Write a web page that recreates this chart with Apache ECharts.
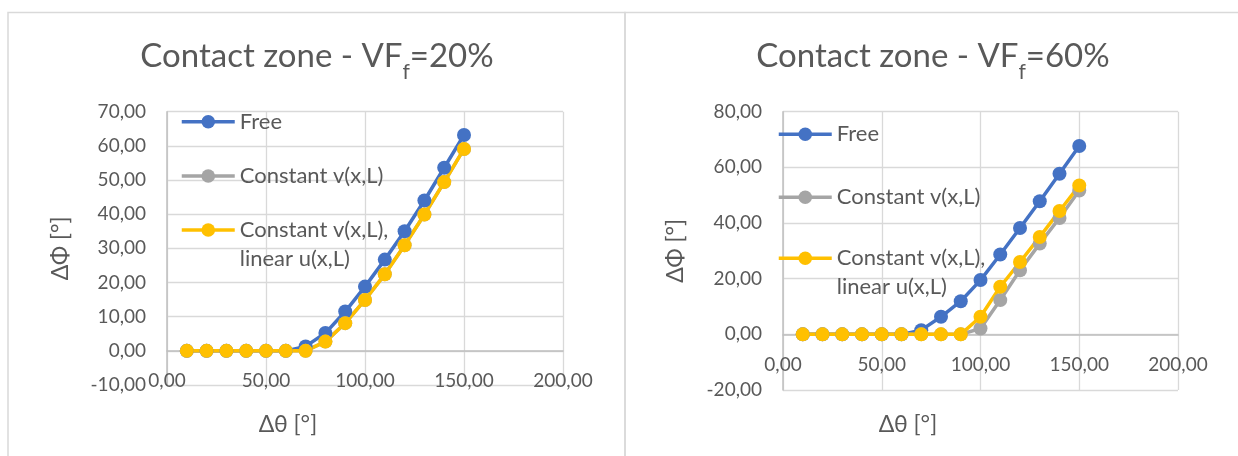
<!DOCTYPE html>
<html>
<head>
<meta charset="utf-8">
<script src="https://cdn.jsdelivr.net/npm/echarts@6/dist/echarts.min.js"></script>
<style>
html,body{margin:0;padding:0;background:#fff;}
#c{width:1238px;height:456px;}
</style>
</head>
<body>
<div id="c"></div>
<script>
// ---- data ----
var thetaValues = [10, 20, 30, 40, 50, 60, 70, 80, 90, 100, 110, 120, 130, 140, 150];
var seriesNames = ['Free', 'Constant v(x,L)', 'Constant v(x,L), linear u(x,L)'];

var vf20Free   = [0, 0, 0, 0, 0, 0, 1.3, 5.2, 11.5, 18.8, 26.7, 35.0, 44.0, 53.6, 63.2];
var vf20Const  = [0, 0, 0, 0, 0, 0, 0, 2.7, 8.1, 14.9, 22.4, 30.9, 39.9, 49.4, 59.1];
var vf20Linear = [0, 0, 0, 0, 0, 0, 0, 2.7, 8.1, 14.9, 22.4, 30.9, 39.9, 49.4, 59.1];

var vf60Free   = [0, 0, 0, 0, 0, 0, 1.5, 6.3, 11.9, 19.5, 28.7, 38.2, 47.8, 57.7, 67.7];
var vf60Const  = [0, 0, 0, 0, 0, 0, 0, 0, 0, 2.1, 12.3, 23.0, 32.6, 41.8, 51.7];
var vf60Linear = [0, 0, 0, 0, 0, 0, 0, 0, 0, 6.3, 17.1, 26.0, 35.0, 44.3, 53.5];

var titles = [['Contact zone - VF', 'f', '=20%'], ['Contact zone - VF', 'f', '=60%']];
var xAxisTitle = 'Δθ [°]';
var yAxisTitle = 'ΔΦ [°]';
var xTicks = {min: 0, max: 200, interval: 50};
var yTicksLeft = {min: -10, max: 70, interval: 10};
var yTicksRight = {min: -20, max: 80, interval: 20};

// ---- style ----
var FONT = 'Lato';
var TXT = '#595959';
var GRID = '#D9D9D9';
var AXIS = '#BFBFBF';
var COLORS = ['#4472C4', '#A5A5A5', '#FFC000'];

function pairs(ys) { return thetaValues.map(function (x, i) { return [x, ys[i]]; }); }
function fmt(v) { return v.toFixed(2).replace('.', ','); }

var chart = echarts.init(document.getElementById('c'), null, {renderer: 'canvas'});

var grids = [
  {left: 167, top: 111.7, width: 396, height: 273.3, containLabel: false, outerBoundsMode: 'none'},
  {left: 783, top: 111.7, width: 395, height: 278.3, containLabel: false, outerBoundsMode: 'none'}
];

// the horizontal axis crosses the vertical one at 0 (Excel style)
function zeroOffset(g, t) { return -g.height * (0 - t.min) / (t.max - t.min); }

function makeX(idx, t, gap, shift) {
  return {
    type: 'value', gridIndex: idx, min: xTicks.min, max: xTicks.max, interval: xTicks.interval,
    offset: zeroOffset(grids[idx], t),
    axisLine: {show: true, onZero: false, lineStyle: {color: AXIS, width: 1.5}},
    axisTick: {show: false},
    axisLabel: {color: TXT, fontFamily: FONT, fontSize: 19, margin: 21, formatter: fmt},
    splitLine: {show: true, lineStyle: {color: GRID, width: 1.3}},
    name: xAxisTitle, nameLocation: 'middle', nameGap: gap,
    nameTextStyle: {color: TXT, fontFamily: FONT, fontSize: 23, padding: [0, shift, 0, 0]}
  };
}
function makeY(idx, t, gap) {
  return {
    type: 'value', gridIndex: idx, min: t.min, max: t.max, interval: t.interval,
    axisLine: {show: true, onZero: true, lineStyle: {color: AXIS, width: 1.5}},
    axisTick: {show: false},
    axisLabel: {color: TXT, fontFamily: FONT, fontSize: 19, margin: 21, formatter: fmt},
    splitLine: {show: true, lineStyle: {color: GRID, width: 1.3}},
    name: yAxisTitle, nameLocation: 'middle', nameGap: gap, nameRotate: 90,
    nameTextStyle: {color: TXT, fontFamily: FONT, fontSize: 23}
  };
}

function makeSeries(idx, name, ys, color) {
  return {
    type: 'line', name: name, xAxisIndex: idx, yAxisIndex: idx,
    data: pairs(ys), symbol: 'circle', symbolSize: 14, showSymbol: true,
    lineStyle: {color: color, width: 3.5}, itemStyle: {color: color},
    emphasis: {disabled: true}, animation: false
  };
}

function makeLegend(name, left, centerY, multi) {
  var lh = 29;
  return {
    data: [name], left: left, top: multi ? centerY - lh * 1.5 : centerY - lh / 2,
    orient: 'vertical', padding: 0, itemWidth: 53, itemHeight: 17,
    selectedMode: false,
    lineStyle: {width: 3.5},
    textStyle: {color: TXT, fontFamily: FONT, fontSize: 22, lineHeight: lh},
    formatter: function (n) { return n === seriesNames[2] ? '\nConstant v(x,L),\nlinear u(x,L)' : n; }
  };
}

function makeTitle(t, centerX) {
  return {
    text: '{a|' + t[0] + '}{b|' + t[1] + '}{a|' + t[2] + '}',
    left: centerX, top: 24, textAlign: 'center',
    textStyle: {
      fontWeight: 'normal',
      rich: {
        a: {fontFamily: FONT, fontSize: 33, fontWeight: 'normal', color: TXT, lineHeight: 54},
        b: {fontFamily: FONT, fontSize: 21, fontWeight: 'normal', color: TXT, lineHeight: 21, verticalAlign: 'bottom'}
      }
    }
  };
}

var option = {
  backgroundColor: '#ffffff',
  animation: false,
  title: [makeTitle(titles[0], 312), makeTitle(titles[1], 928)],
  grid: grids,
  xAxis: [makeX(0, yTicksLeft, 62, 154), makeX(1, yTicksRight, 79, 145)],
  yAxis: [makeY(0, yTicksLeft, 95), makeY(1, yTicksRight, 96)],
  legend: [
    makeLegend(seriesNames[0], 180, 121.7, false),
    makeLegend(seriesNames[1], 180, 176, false),
    makeLegend(seriesNames[2], 180, 230, true),
    makeLegend(seriesNames[0], 777, 134.3, false),
    makeLegend(seriesNames[1], 777, 197.3, false),
    makeLegend(seriesNames[2], 777, 258.3, true)
  ],
  series: [
    makeSeries(0, seriesNames[0], vf20Free, COLORS[0]),
    makeSeries(0, seriesNames[1], vf20Const, COLORS[1]),
    makeSeries(0, seriesNames[2], vf20Linear, COLORS[2]),
    makeSeries(1, seriesNames[0], vf60Free, COLORS[0]),
    makeSeries(1, seriesNames[1], vf60Const, COLORS[1]),
    makeSeries(1, seriesNames[2], vf60Linear, COLORS[2])
  ],
  graphic: [
    {type: 'rect', shape: {x: 8, y: 12.5, width: 617, height: 470}, style: {fill: 'none', stroke: '#D9D9D9', lineWidth: 1.5}, silent: true, z: -10},
    {type: 'rect', shape: {x: 625, y: 12.5, width: 640, height: 470}, style: {fill: 'none', stroke: '#D9D9D9', lineWidth: 1.5}, silent: true, z: -10}
  ]
};
chart.setOption(option);
</script>
</body>
</html>
